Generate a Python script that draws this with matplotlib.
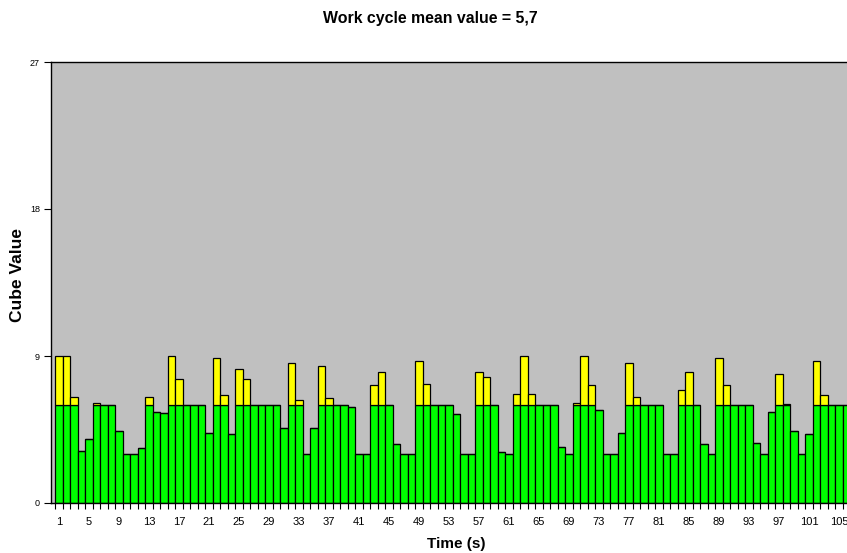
import matplotlib.pyplot as plt
import numpy as np

plt.rcParams['font.family'] = ['Liberation Sans', 'DejaVu Sans']

# time steps (s)
time_s = list(range(1, 107))

# green part of each bar (capped part)
base_values = [
    6, 6, 6, 3.2, 3.9, 6, 6, 6, 4.4, 3,
    3, 3.35, 6, 5.6, 5.5, 6, 6, 6, 6, 6,
    4.3, 6, 6, 4.2, 6, 6, 6, 6, 6, 6,
    4.6, 6, 6, 3, 4.6, 6, 6, 6, 6, 5.9,
    3, 3, 6, 6, 6, 3.6, 3, 3, 6, 6,
    6, 6, 6, 5.45, 3, 3, 6, 6, 6, 3.1,
    3, 6, 6, 6, 6, 6, 6, 3.4, 3, 6,
    6, 6, 5.7, 3, 3, 4.3, 6, 6, 6, 6,
    6, 3, 3, 6, 6, 6, 3.6, 3, 6, 6,
    6, 6, 6, 3.7, 3, 5.55, 6, 6, 4.4, 3,
    4.2, 6, 6, 6, 6, 6,
]

# yellow part stacked on top
excess_values = [
    3, 3, 0.5, 0, 0, 0.15, 0, 0, 0, 0,
    0, 0, 0.5, 0, 0, 3, 1.6, 0, 0, 0,
    0, 2.9, 0.6, 0, 2.2, 1.6, 0, 0, 0, 0,
    0, 2.6, 0.3, 0, 0, 2.4, 0.4, 0, 0, 0,
    0, 0, 1.2, 2, 0, 0, 0, 0, 2.7, 1.3,
    0, 0, 0, 0, 0, 0, 2, 1.7, 0, 0,
    0, 0.7, 3, 0.7, 0, 0, 0, 0, 0, 0.1,
    3, 1.2, 0, 0, 0, 0, 2.6, 0.5, 0, 0,
    0, 0, 0, 0.9, 2, 0, 0, 0, 2.9, 1.2,
    0, 0, 0, 0, 0, 0, 1.9, 0.05, 0, 0,
    0, 2.7, 0.6, 0, 0, 0,
]

y_ticks = [0, 9, 18, 27]
x_labels = list(range(1, 107, 4))

fig = plt.figure(figsize=(8.47, 5.53), dpi=100)
ax = fig.add_axes([51 / 847, 1 - 503 / 553, 1 - 51 / 847, (503 - 62) / 553])
ax.set_facecolor('#C0C0C0')

ax.bar(time_s, base_values, width=1.0, color='#00FF00', edgecolor='black', linewidth=0.9)
ax.bar(time_s, excess_values, width=1.0, bottom=base_values,
       color='#FFFF00', edgecolor='black', linewidth=0.9)

ax.set_xlim(-0.07, 106.07)
ax.set_ylim(0, 27)

ax.set_yticks(y_ticks)
ax.set_yticklabels([str(v) for v in y_ticks], fontsize=6.5)
ax.set_xticks(x_labels)
ax.set_xticklabels([str(v) for v in x_labels], fontsize=8)
ax.tick_params(axis='x', which='major', length=0, pad=10)
ax.set_xticks(np.arange(0.5, 106.5, 1), minor=True)
ax.tick_params(axis='x', which='minor', length=4, width=0.8, direction='out')
ax.tick_params(axis='y', length=5, width=0.8, direction='out', pad=3)

for side in ['left', 'bottom', 'top']:
    ax.spines[side].set_linewidth(1.0)
ax.spines['right'].set_visible(False)

fig.text(456 / 847, 1 - 544 / 553, 'Time (s)', ha='center', va='center',
         fontsize=11, fontweight='bold')
fig.text(17 / 847, 1 - 275 / 553, 'Cube Value', rotation=90, ha='center', va='center',
         fontsize=12.5, fontweight='bold')
fig.text(430 / 847, 1 - 18 / 553, 'Work cycle mean value = 5,7', ha='center', va='center',
         fontsize=11.4, fontweight='bold')

fig.savefig('out.png', dpi=100)
